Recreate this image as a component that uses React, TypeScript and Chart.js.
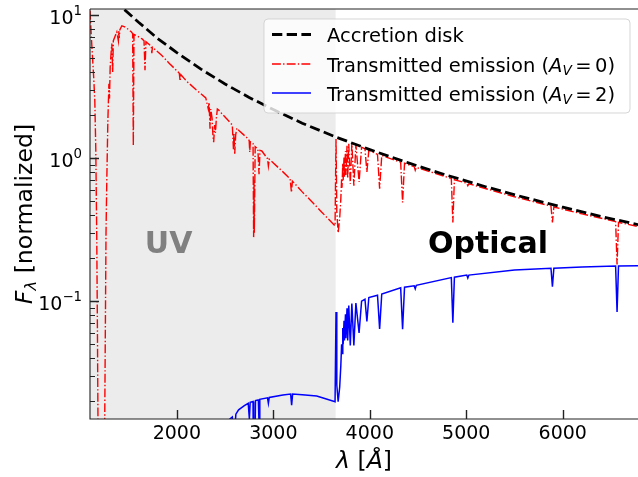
import React, { useEffect, useRef } from "react";
import { Chart, registerables } from "chart.js";

Chart.register(...registerables);

// ---- axis ranges and ticks ----
const X_MIN = 1100;
const X_MAX = 6780;
const Y_MIN = 0.015;
const Y_MAX = 11;
const UV_EDGE = 3646;
const xTicks = [2000, 3000, 4000, 5000, 6000];
const yMajorTicks = [0.1, 1, 10];
const yMajorExponents = ["\u22121", "0", "1"];
const yMinorTicks = [
  0.02, 0.03, 0.04, 0.05, 0.06, 0.07, 0.08, 0.09,
  0.2, 0.3, 0.4, 0.5, 0.6, 0.7, 0.8, 0.9,
  2, 3, 4, 5, 6, 7, 8, 9,
];
const seriesLabels = [
  "Accretion disk",
  "Transmitted emission (A_V=0)",
  "Transmitted emission (A_V=2)",
];
const extinctionValues = ["", "0", "2"];
const regionLabels = ["UV", "Optical"];
const regionLabelX = [1915, 5225];
const regionLabelY = 0.218;

// ---- data: [wavelength (Å), normalized flux] ----
const diskSpectrum = [
  [1250, 15.4], [1350, 12.9], [1450, 11.0], [1600, 8.93], [1800, 6.85],
  [2000, 5.46], [2250, 4.18], [2500, 3.29], [2750, 2.65], [3000, 2.18],
  [3300, 1.75], [3650, 1.40], [4000, 1.145], [4400, 0.924], [4800, 0.757],
  [5200, 0.630], [5600, 0.531], [6000, 0.453], [6400, 0.390], [6800, 0.340],
];

const av0UV = [
  [1100, 10.7], [1112, 7.4], [1125, 5.2], [1138, 3.7], [1150, 2.5],
  [1160, 1.15], [1170, 0.28], [1178, 0.05], [1185, 0.008], [1250, 0.008],
  [1258, 0.05], [1266, 0.3], [1274, 0.69], [1285, 1.8], [1296, 3.3],
  [1302, 2.6], [1309, 4.3], [1320, 5.6], [1326, 6.3], [1335, 4.0],
  [1342, 6.6], [1360, 7.1], [1378, 7.6], [1394, 6.6], [1398, 7.7],
  [1403, 6.9], [1410, 7.9], [1430, 8.4], [1460, 8.25], [1500, 7.9],
  [1530, 7.6], [1542, 7.4], [1549, 1.22], [1556, 7.3], [1600, 7.05],
  [1640, 6.8], [1660, 6.6], [1670, 4.1], [1680, 6.5], [1735, 6.05],
  [1741, 5.4], [1747, 5.95], [1845, 5.2], [1920, 4.6], [2017, 3.97],
  [2026, 3.9], [2034, 3.45], [2042, 3.82], [2100, 3.45], [2200, 3.0],
  [2300, 2.63], [2326, 2.2], [2335, 2.45], [2344, 1.6], [2352, 2.2],
  [2365, 1.9], [2374, 1.45], [2382, 1.29], [2392, 1.7], [2400, 1.5],
  [2410, 1.9], [2420, 2.2], [2431, 2.17], [2552, 1.77], [2575, 1.7],
  [2587, 1.15], [2592, 1.5], [2600, 1.07], [2610, 1.45], [2622, 1.62],
  [2638, 1.57], [2740, 1.36], [2750, 1.32], [2756, 1.1], [2762, 1.3],
  [2790, 1.26], [2796, 0.28], [2800, 0.7], [2803, 0.30], [2812, 1.2],
  [2840, 1.16], [2852, 0.77], [2862, 1.13], [2881, 1.12], [2940, 0.99],
  [2949, 0.88], [2958, 0.98], [3100, 0.80], [3174, 0.716], [3188, 0.575],
  [3198, 0.69], [3300, 0.58], [3400, 0.495], [3500, 0.42], [3589, 0.364],
  [3640, 0.336],
];

const av0Optical = [
  [3650, 1.36], [3658, 0.42], [3672, 0.30], [3688, 0.38], [3700, 0.52],
  [3708, 0.72], [3712, 0.62], [3720, 0.92], [3724, 0.70], [3733, 1.02],
  [3737, 0.74], [3748, 1.12], [3752, 0.76], [3764, 1.22], [3771, 0.72],
  [3782, 1.26], [3798, 0.66], [3814, 1.27], [3835, 0.64], [3856, 1.24],
  [3889, 0.68], [3915, 1.19], [3950, 1.16], [3970, 0.80], [3990, 1.13],
  [4080, 1.06], [4102, 0.61], [4124, 1.04], [4320, 0.935], [4340, 0.49],
  [4360, 0.92], [4460, 0.87], [4471, 0.82], [4482, 0.86], [4845, 0.72],
  [4861, 0.355], [4877, 0.705], [5005, 0.667], [5016, 0.64], [5027, 0.66],
  [5500, 0.536], [5878, 0.461], [5893, 0.355], [5908, 0.455], [6200, 0.407],
  [6548, 0.36], [6563, 0.18], [6578, 0.355], [6800, 0.330],
];

const av2UV = [
  [2520, 0.0135], [2550, 0.0150], [2575, 0.0155], [2587, 0.0120], [2595, 0.0150],
  [2600, 0.0125], [2612, 0.0162], [2640, 0.0174], [2700, 0.0186], [2740, 0.0193],
  [2752, 0.0150], [2760, 0.0196], [2790, 0.0199], [2796, 0.0040], [2800, 0.0080],
  [2803, 0.0045], [2815, 0.0202], [2845, 0.0204], [2852, 0.0140], [2860, 0.0206],
  [2940, 0.0211], [2949, 0.0193], [2958, 0.0212], [3100, 0.0221], [3180, 0.0224],
  [3190, 0.0187], [3200, 0.0224], [3300, 0.0222], [3450, 0.0217], [3550, 0.0207],
  [3640, 0.0198],
];

const av2Optical = [
  [3650, 0.084], [3658, 0.026], [3672, 0.0198], [3688, 0.025], [3700, 0.0357],
  [3708, 0.050], [3712, 0.043], [3720, 0.065], [3724, 0.050], [3733, 0.073],
  [3737, 0.053], [3748, 0.081], [3752, 0.055], [3764, 0.089], [3771, 0.053],
  [3782, 0.093], [3798, 0.049], [3814, 0.096], [3835, 0.049], [3856, 0.097],
  [3889, 0.060], [3915, 0.100], [3950, 0.103], [3970, 0.072], [3990, 0.106],
  [4080, 0.110], [4102, 0.064], [4124, 0.112], [4320, 0.124], [4340, 0.0637],
  [4360, 0.125], [4460, 0.128], [4471, 0.122], [4482, 0.129], [4845, 0.146],
  [4861, 0.0705], [4877, 0.147], [5005, 0.152], [5016, 0.145], [5027, 0.152],
  [5500, 0.165], [5878, 0.1695], [5893, 0.126], [5908, 0.170], [6200, 0.173],
  [6548, 0.176], [6563, 0.084], [6578, 0.176], [6800, 0.177],
];

// ---- styles ----
const FONT = '"DejaVu Sans", sans-serif';
const TICK_PX = 19;
const LABEL_PX = 23.6;
const LEGEND_PX = 19.5;
const DISK_DASH = [10.3, 4.4];
const AV0_DASH = [8.9, 2.2, 1.4, 2.2];

type Part = { t: string; size: number; italic?: boolean; bold?: boolean; dy?: number; gap?: number };

function fontOf(p: Part) {
  return `${p.italic ? "italic " : ""}${p.bold ? "bold " : ""}${p.size}px ${FONT}`;
}

function partsWidth(ctx: CanvasRenderingContext2D, parts: Part[]) {
  let w = 0;
  for (const p of parts) {
    ctx.font = fontOf(p);
    w += ctx.measureText(p.t).width + (p.gap || 0);
  }
  return w;
}

function drawParts(ctx: CanvasRenderingContext2D, parts: Part[], x: number, y: number) {
  let cx = x;
  for (const p of parts) {
    ctx.font = fontOf(p);
    ctx.fillText(p.t, cx, y + (p.dy || 0));
    cx += ctx.measureText(p.t).width + (p.gap || 0);
  }
}

const decorPlugin = {
  id: "decor",
  beforeDatasetsDraw(chart: any) {
    const { ctx, chartArea: a, scales } = chart;
    const xr = scales.x.getPixelForValue(UV_EDGE);
    ctx.save();
    ctx.fillStyle = "rgba(128,128,128,0.15)";
    ctx.fillRect(a.left, a.top, xr - a.left, a.bottom - a.top);
    ctx.restore();
  },
  afterDatasetsDraw(chart: any) {
    const { ctx, chartArea: a, scales } = chart;
    const xs = scales.x;
    const ys = scales.y;
    ctx.save();

    // region labels
    ctx.textAlign = "center";
    ctx.textBaseline = "alphabetic";
    ctx.font = `bold 30px ${FONT}`;
    ctx.fillStyle = "#808080";
    ctx.fillText(regionLabels[0], xs.getPixelForValue(regionLabelX[0]), ys.getPixelForValue(regionLabelY));
    ctx.fillStyle = "#000";
    ctx.fillText(regionLabels[1], xs.getPixelForValue(regionLabelX[1]), ys.getPixelForValue(regionLabelY));

    // spines
    ctx.strokeStyle = "#222";
    ctx.lineWidth = 1.1;
    ctx.beginPath();
    ctx.moveTo(a.left, a.top);
    ctx.lineTo(a.right, a.top);
    ctx.moveTo(a.left, a.top);
    ctx.lineTo(a.left, a.bottom);
    ctx.lineTo(a.right, a.bottom);
    ctx.stroke();

    // ticks (inward)
    ctx.lineWidth = 1.4;
    ctx.beginPath();
    for (const v of xTicks) {
      const px = Math.round(xs.getPixelForValue(v)) + 0.5;
      ctx.moveTo(px, a.bottom);
      ctx.lineTo(px, a.bottom - 9);
    }
    for (const v of yMajorTicks) {
      const py = Math.round(ys.getPixelForValue(v)) + 0.5;
      ctx.moveTo(a.left, py);
      ctx.lineTo(a.left + 9, py);
    }
    ctx.stroke();
    ctx.lineWidth = 1;
    ctx.beginPath();
    for (const v of yMinorTicks) {
      const py = Math.round(ys.getPixelForValue(v)) + 0.5;
      ctx.moveTo(a.left, py);
      ctx.lineTo(a.left + 5, py);
    }
    ctx.stroke();

    // tick labels
    ctx.fillStyle = "#000";
    ctx.textAlign = "center";
    ctx.font = `${TICK_PX}px ${FONT}`;
    for (const v of xTicks) {
      ctx.fillText(String(v), xs.getPixelForValue(v), a.bottom + 20);
    }
    ctx.textAlign = "left";
    yMajorTicks.forEach((v, i) => {
      const py = ys.getPixelForValue(v);
      const parts: Part[] = [
        { t: "10", size: TICK_PX },
        { t: yMajorExponents[i], size: TICK_PX * 0.7, dy: -8.6 },
      ];
      const w = partsWidth(ctx, parts);
      drawParts(ctx, parts, a.left - 8 - w, py + 8.6);
    });

    // x axis label
    const xl: Part[] = [
      { t: "\u03bb", size: LABEL_PX, italic: true },
      { t: " [", size: LABEL_PX },
      { t: "\u00c5", size: LABEL_PX, italic: true },
      { t: "]", size: LABEL_PX },
    ];
    const xw = partsWidth(ctx, xl);
    drawParts(ctx, xl, (a.left + a.right) / 2 - xw / 2, 468);

    // y axis label
    const yl: Part[] = [
      { t: "F", size: LABEL_PX, italic: true },
      { t: "\u03bb", size: LABEL_PX * 0.7, italic: true, dy: 4 },
      { t: " [normalized]", size: LABEL_PX },
    ];
    const yw = partsWidth(ctx, yl);
    ctx.save();
    ctx.translate(31.5, (a.top + a.bottom) / 2);
    ctx.rotate(-Math.PI / 2);
    drawParts(ctx, yl, -yw / 2, 0);
    ctx.restore();

    // legend
    const bx = 264, by = 19, bw = 366, bh = 94, r = 4;
    ctx.beginPath();
    ctx.moveTo(bx + r, by);
    ctx.arcTo(bx + bw, by, bx + bw, by + bh, r);
    ctx.arcTo(bx + bw, by + bh, bx, by + bh, r);
    ctx.arcTo(bx, by + bh, bx, by, r);
    ctx.arcTo(bx, by, bx + bw, by, r);
    ctx.closePath();
    ctx.fillStyle = "rgba(255,255,255,0.8)";
    ctx.fill();
    ctx.strokeStyle = "rgba(204,204,204,0.8)";
    ctx.lineWidth = 1;
    ctx.stroke();

    const rows = [42, 71.5, 100.5];
    const styles = [
      { c: "#000", w: 2.8, d: DISK_DASH },
      { c: "#ff0000", w: 1.4, d: AV0_DASH },
      { c: "#0000ff", w: 1.5, d: [] as number[] },
    ];
    rows.forEach((base, i) => {
      const s = styles[i];
      ctx.strokeStyle = s.c;
      ctx.lineWidth = s.w;
      ctx.setLineDash(s.d);
      ctx.beginPath();
      ctx.moveTo(272, base - 7.5);
      ctx.lineTo(311, base - 7.5);
      ctx.stroke();
      ctx.setLineDash([]);
      ctx.fillStyle = "#000";
      let parts: Part[];
      if (i === 0) {
        parts = [{ t: seriesLabels[0], size: LEGEND_PX }];
      } else {
        parts = [
          { t: "Transmitted emission (", size: LEGEND_PX },
          { t: "A", size: LEGEND_PX, italic: true },
          { t: "V", size: LEGEND_PX * 0.7, italic: true, dy: 3.5, gap: 3.5 },
          { t: "=", size: LEGEND_PX, gap: 3.5 },
          { t: extinctionValues[i], size: LEGEND_PX },
          { t: ")", size: LEGEND_PX },
        ];
      }
      drawParts(ctx, parts, 327, base);
    });

    ctx.restore();
  },
};

function toPoints(list: number[][]) {
  return list.map(([x, y]) => ({ x, y }));
}

export default function App() {
  const ref = useRef<HTMLCanvasElement | null>(null);
  useEffect(() => {
    if (!ref.current) return;
    const chart = new Chart(ref.current, {
      type: "line",
      data: {
        datasets: [
          {
            label: seriesLabels[0],
            data: toPoints(diskSpectrum),
            borderColor: "#000",
            borderWidth: 2.8,
            borderDash: DISK_DASH,
            pointRadius: 0,
            fill: false,
            tension: 0,
            clip: 0,
          },
          {
            label: seriesLabels[1],
            data: toPoints([...av0UV, ...av0Optical]),
            borderColor: "#ff0000",
            borderWidth: 1.4,
            borderDash: AV0_DASH,
            pointRadius: 0,
            fill: false,
            tension: 0,
            clip: 0,
          },
          {
            label: seriesLabels[2],
            data: toPoints([...av2UV, ...av2Optical]),
            borderColor: "#0000ff",
            borderWidth: 1.5,
            pointRadius: 0,
            fill: false,
            tension: 0,
            clip: 0,
          },
        ],
      } as any,
      options: {
        responsive: false,
        animation: false,
        devicePixelRatio: 1,
        layout: { padding: { left: 0, right: 0, top: 9, bottom: 0 } },
        plugins: { legend: { display: false }, tooltip: { enabled: false } },
        scales: {
          x: {
            type: "linear",
            min: X_MIN,
            max: X_MAX,
            grid: { display: false },
            border: { display: false },
            ticks: { display: false },
            afterFit: (s: any) => { s.height = 58; },
          },
          y: {
            type: "logarithmic",
            min: Y_MIN,
            max: Y_MAX,
            grid: { display: false },
            border: { display: false },
            ticks: { display: false },
            afterFit: (s: any) => { s.width = 90; },
          },
        },
      } as any,
      plugins: [decorPlugin],
    });
    return () => chart.destroy();
  }, []);
  return (
    <div style={{ position: "fixed", left: 0, top: 0, width: 638, height: 477, background: "#fff" }}>
      <canvas ref={ref} width={638} height={477} style={{ width: 638, height: 477, display: "block" }} />
    </div>
  );
}
